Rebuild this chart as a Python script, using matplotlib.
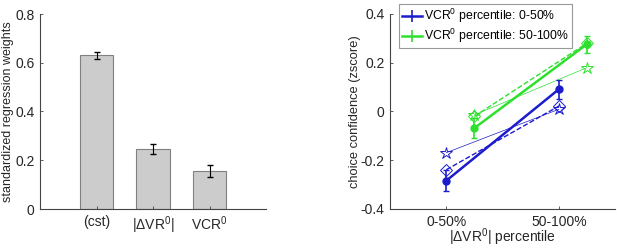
import matplotlib
matplotlib.use('Agg')
import matplotlib.pyplot as plt

plt.rcParams['font.family'] = ['Liberation Sans', 'DejaVu Sans']
plt.rcParams['mathtext.fontset'] = 'custom'
plt.rcParams['mathtext.rm'] = 'Liberation Sans'
plt.rcParams['mathtext.it'] = 'Liberation Sans'
plt.rcParams['font.size'] = 9

# left panel: regression weights
bar_labels = ['(cst)', r'$|\Delta\mathrm{VR}^0|$', r'$\mathrm{VCR}^0$']
bar_vals = [0.630, 0.245, 0.155]
bar_err = [0.015, 0.020, 0.025]

# right panel: confidence per |dVR0| percentile bin
xcats = ['0-50%', '50-100%']
low_mean = [-0.284, 0.091]
low_err = [0.042, 0.040]
high_mean = [-0.068, 0.276]
high_err = [0.040, 0.034]
low_diamond = [-0.239, 0.022]
low_star = [-0.169, 0.009]
high_diamond = [-0.020, 0.280]
high_star = [-0.014, 0.180]

blue = '#1c1ccc'
green = '#2ee02e'

fig = plt.figure(figsize=(6.17, 2.49), dpi=100)

ax1 = fig.add_axes([40/617, 1-209/249, 226/617, 195/249])
xb = [1, 2, 3]
ax1.bar(xb, bar_vals, width=0.6, color='#cccccc', edgecolor='#808080', linewidth=0.8)
ax1.errorbar(xb, bar_vals, yerr=bar_err, fmt='none', ecolor='black', elinewidth=0.8, capsize=2)
ax1.set_xlim(0, 4)
ax1.set_ylim(0, 0.8)
ax1.set_yticks([0, 0.2, 0.4, 0.6, 0.8])
ax1.set_yticklabels(['0', '0.2', '0.4', '0.6', '0.8'])
ax1.set_xticks(xb)
ax1.set_xticklabels(bar_labels)
ax1.set_ylabel('standardized regression weights', fontsize=9)
ax1.yaxis.set_label_coords(-26/226, 0.5)

ax2 = fig.add_axes([390/617, 1-209/249, 225/617, 195/249])
x1 = [1, 2]
x2 = [1.25, 2.25]
ax2.plot(x1, low_star, color=blue, lw=0.5, marker='*', ms=9, mfc='none', mew=0.7)
ax2.plot(x1, low_diamond, color=blue, lw=1, ls='--', marker='D', ms=6, mfc='none', mew=0.7)
ax2.plot(x2, high_star, color=green, lw=0.5, marker='*', ms=9, mfc='none', mew=0.7)
ax2.plot(x2, high_diamond, color=green, lw=1, ls='--', marker='D', ms=6, mfc='none', mew=0.7)
ax2.errorbar(x1, low_mean, yerr=low_err, color=blue, lw=1.8, marker='o', ms=5,
             capsize=2.5, elinewidth=1.2)
ax2.errorbar(x2, high_mean, yerr=high_err, color=green, lw=1.8, marker='o', ms=5,
             capsize=2.5, elinewidth=1.2)
# legend proxies without the circle marker, as in the original
ax2.errorbar([], [], yerr=[], color=blue, lw=1.8, capsize=2.5, elinewidth=1.2,
             label=r'$\mathrm{VCR}^0$ percentile: 0-50%')
ax2.errorbar([], [], yerr=[], color=green, lw=1.8, capsize=2.5, elinewidth=1.2,
             label=r'$\mathrm{VCR}^0$ percentile: 50-100%')
ax2.set_xlim(0.5, 2.5)
ax2.set_ylim(-0.4, 0.4)
ax2.set_yticks([-0.4, -0.2, 0, 0.2, 0.4])
ax2.set_yticklabels(['-0.4', '-0.2', '0', '0.2', '0.4'])
ax2.set_xticks(x1)
ax2.set_xticklabels(xcats)
ax2.set_xlabel(r'$|\Delta\mathrm{VR}^0|$ percentile', fontsize=10)
ax2.xaxis.set_label_coords(0.5, -17/195)
ax2.set_ylabel('choice confidence (zscore)', fontsize=9.3)
ax2.yaxis.set_label_coords(-29/225, 0.5)
leg = ax2.legend(loc='upper left', bbox_to_anchor=(399/617, 1-4/249), bbox_transform=fig.transFigure,
                 borderaxespad=0, fancybox=False, edgecolor='#808080', handlelength=1.6,
                 handletextpad=0.2, borderpad=0.25, labelspacing=0.15, fontsize=8.8)
leg.get_frame().set_linewidth(0.8)

for ax in (ax1, ax2):
    ax.spines['top'].set_visible(False)
    ax.spines['right'].set_visible(False)
    ax.spines['left'].set_color('#444444')
    ax.spines['bottom'].set_color('#444444')
    ax.tick_params(direction='in', length=2.5, width=0.6, colors='#444444', labelcolor='#262626',
                   labelsize=10, pad=4)
    ax.yaxis.label.set_color('#262626')
    ax.xaxis.label.set_color('#262626')

fig.savefig('out.png', dpi=100)
